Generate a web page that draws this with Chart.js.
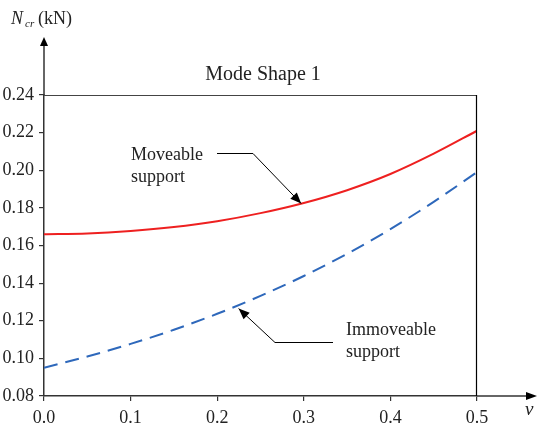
<!DOCTYPE html>
<html>
<head>
<meta charset="utf-8">
<script src="https://cdn.jsdelivr.net/npm/chart.js@4.4.1/dist/chart.umd.min.js"></script>
<style>
html,body{margin:0;padding:0;background:#fff;}
#wrap{width:539px;height:423px;position:relative;}
</style>
</head>
<body>
<div id="wrap"><canvas id="c" width="539" height="423"></canvas></div>
<script>
// ---- data ----
const nu = [0, 0.05, 0.1, 0.15, 0.2, 0.25, 0.3, 0.35, 0.4, 0.45, 0.5];
const moveable = [0.166, 0.1664, 0.1677, 0.1698, 0.1729, 0.1772, 0.1826, 0.1894, 0.198, 0.2088, 0.221];
const immoveable = [0.095, 0.101, 0.1077, 0.1152, 0.1237, 0.1332, 0.1438, 0.1556, 0.1687, 0.1832, 0.1990];
const xTicks = [0, 0.1, 0.2, 0.3, 0.4, 0.5];
const yTicks = [0.08, 0.10, 0.12, 0.14, 0.16, 0.18, 0.20, 0.22, 0.24];
const titleText = 'Mode Shape 1';
const label1 = ['Moveable', 'support'];
const label2 = ['Immoveable', 'support'];

const SERIF = "'Liberation Serif', 'Times New Roman', serif";
const AX = '#333';
Chart.defaults.font.family = SERIF;
Chart.defaults.color = '#222';

function arrowHead(ctx, x1, y1, x2, y2, len, half) {
  const a = Math.atan2(y2 - y1, x2 - x1);
  ctx.beginPath();
  ctx.moveTo(x2, y2);
  ctx.lineTo(x2 - len * Math.cos(a) + half * Math.sin(a), y2 - len * Math.sin(a) - half * Math.cos(a));
  ctx.lineTo(x2 - len * Math.cos(a) - half * Math.sin(a), y2 - len * Math.sin(a) + half * Math.cos(a));
  ctx.closePath();
  ctx.fill();
}

const decor = {
  id: 'decor',
  afterDraw(chart) {
    const ctx = chart.ctx, ca = chart.chartArea;
    const xs = chart.scales.x, ys = chart.scales.y;
    ctx.save();
    // top & right frame
    ctx.lineWidth = 1.2;
    ctx.strokeStyle = '#444';
    ctx.beginPath(); ctx.moveTo(ca.left, ca.top + 0.5); ctx.lineTo(ca.right, ca.top + 0.5); ctx.stroke();
    ctx.strokeStyle = '#000';
    ctx.beginPath(); ctx.moveTo(ca.right - 0.5, ca.top); ctx.lineTo(ca.right - 0.5, ca.bottom); ctx.stroke();
    // axis extensions with arrows
    ctx.strokeStyle = AX; ctx.fillStyle = '#000'; ctx.lineWidth = 1.5;
    ctx.beginPath(); ctx.moveTo(ca.left, ca.top); ctx.lineTo(ca.left, 44); ctx.stroke();
    arrowHead(ctx, ca.left, 60, ca.left, 37, 9, 4);
    ctx.beginPath(); ctx.moveTo(ca.right, ca.bottom); ctx.lineTo(528, ca.bottom); ctx.stroke();
    arrowHead(ctx, 500, ca.bottom, 537, ca.bottom, 11, 4);

    // axis titles
    ctx.fillStyle = '#222';
    ctx.textBaseline = 'alphabetic';
    ctx.textAlign = 'left';
    ctx.font = 'italic 18px ' + SERIF;
    ctx.fillText('N', 11, 24);
    ctx.font = 'italic 11px ' + SERIF;
    ctx.fillText('cr', 25, 27);
    ctx.font = '18px ' + SERIF;
    ctx.fillText('(kN)', 38, 24);
    ctx.font = 'italic 19px ' + SERIF;
    ctx.fillText('\u03bd', 525, 415);

    // title
    ctx.font = '20px ' + SERIF;
    ctx.textAlign = 'center';
    ctx.fillText(titleText, 263, 80);

    // annotation 1 (moveable)
    ctx.textAlign = 'left';
    ctx.font = '18px ' + SERIF;
    ctx.fillText(label1[0], 131, 160);
    ctx.fillText(label1[1], 131, 182);
    const t1x = xs.getPixelForValue(0.297), t1y = ys.getPixelForValue(0.1823);
    ctx.strokeStyle = '#000'; ctx.fillStyle = '#000'; ctx.lineWidth = 1;
    ctx.beginPath(); ctx.moveTo(217, 153.5); ctx.lineTo(253, 153.5); ctx.lineTo(t1x, t1y); ctx.stroke();
    arrowHead(ctx, 253, 153.5, t1x, t1y, 11, 4.5);

    // annotation 2 (immoveable)
    ctx.fillStyle = '#222';
    ctx.fillText(label2[0], 346, 335);
    ctx.fillText(label2[1], 346, 357);
    const t2x = xs.getPixelForValue(0.2247), t2y = ys.getPixelForValue(0.1265);
    ctx.fillStyle = '#000';
    ctx.beginPath(); ctx.moveTo(333, 342.5); ctx.lineTo(275, 342.5); ctx.lineTo(t2x, t2y); ctx.stroke();
    arrowHead(ctx, 275, 342.5, t2x, t2y, 11, 4.5);
    ctx.restore();
  }
};

new Chart(document.getElementById('c'), {
  type: 'line',
  data: {
    datasets: [
      {
        label: 'Moveable support',
        data: nu.map((v, i) => ({x: v, y: moveable[i]})),
        borderColor: '#ee2020',
        borderWidth: 2,
        pointRadius: 0,
        fill: false,
        cubicInterpolationMode: 'monotone'
      },
      {
        label: 'Immoveable support',
        data: nu.map((v, i) => ({x: v, y: immoveable[i]})),
        borderColor: '#2e68bb',
        borderWidth: 2,
        borderDash: [14, 8],
        pointRadius: 0,
        fill: false,
        cubicInterpolationMode: 'monotone'
      }
    ]
  },
  options: {
    responsive: false,
    animation: false,
    devicePixelRatio: 1,
    layout: {padding: {top: 95, right: 62, left: 0, bottom: 0}},
    plugins: {legend: {display: false}, tooltip: {enabled: false}, title: {display: false}},
    scales: {
      x: {
        type: 'linear', min: 0, max: 0.5,
        afterBuildTicks: s => { s.ticks = xTicks.map(v => ({value: v})); },
        afterFit: s => { s.height = 27; },
        ticks: {
          callback: v => v.toFixed(1),
          font: {family: SERIF, size: 18},
          color: '#222',
          padding: 6,
          maxRotation: 0
        },
        grid: {drawOnChartArea: false, drawTicks: true, tickLength: 5, color: AX, lineWidth: 1.2},
        border: {display: true, color: AX, width: 1.5}
      },
      y: {
        type: 'linear', min: 0.08, max: 0.24,
        afterBuildTicks: s => { s.ticks = yTicks.map(v => ({value: v})); },
        afterFit: s => { s.width = 44; },
        ticks: {
          callback: v => v.toFixed(2),
          font: {family: SERIF, size: 18},
          color: '#222',
          padding: 5
        },
        grid: {drawOnChartArea: false, drawTicks: true, tickLength: 5, color: AX, lineWidth: 1.2},
        border: {display: true, color: AX, width: 1.5}
      }
    }
  },
  plugins: [decor]
});
</script>
</body>
</html>
